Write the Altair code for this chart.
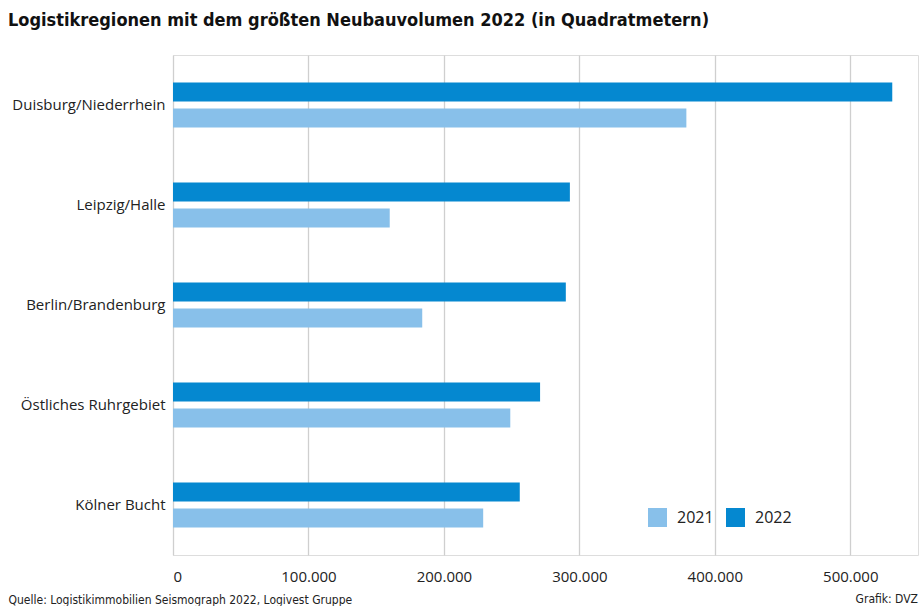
import altair as alt
import pandas as pd

regions = ["Duisburg/Niederrhein", "Leipzig/Halle", "Berlin/Brandenburg",
           "Östliches Ruhrgebiet", "Kölner Bucht"]
values_2021 = [379000, 160000, 184000, 249000, 229000]
values_2022 = [531000, 293000, 290000, 271000, 256000]
years = ["2021", "2022"]
x_ticks = [0, 100000, 200000, 300000, 400000, 500000]

rows = []
for r, a, b in zip(regions, values_2021, values_2022):
    rows.append({"region": r, "year": "2021", "value": a})
    rows.append({"region": r, "year": "2022", "value": b})
df = pd.DataFrame(rows)

LIGHT = "#88c0ea"
DARK = "#0588d0"
FONT = "Open Sans"
TFONT = "DejaVu Sans Condensed, Roboto, sans-serif"

bars = alt.Chart(df).mark_bar().encode(
    x=alt.X("value:Q",
            scale=alt.Scale(domain=[0, 550000], nice=False),
            axis=alt.Axis(values=x_ticks, labelExpr="replace(format(datum.value, ',d'), /,/g, '.')",
                          grid=True, gridColor="#cfcfcf", gridWidth=1.3, domain=False, ticks=False,
                          labelFont=FONT, labelFontSize=15, labelColor="#222", labelPadding=14,
                          title="Quelle: Logistikimmobilien Seismograph 2022, Logivest Gruppe",
                          titleFont=TFONT, titleFontSize=12, titleFontWeight="normal", titleColor="#222",
                          titleAnchor="start", titleAlign="left", titleX=-165, titleY=48,
                          titleBaseline="alphabetic")),
    y=alt.Y("region:N", sort=regions,
            scale=alt.Scale(paddingInner=0.55, paddingOuter=0.275),
            axis=alt.Axis(title=None, domain=False, ticks=False, grid=False, labelFont=FONT,
                          labelFontSize=15, labelColor="#222", labelPadding=8)),
    yOffset=alt.YOffset("year:N", sort=["2022", "2021"],
                        scale=alt.Scale(paddingInner=0.27, paddingOuter=0)),
    color=alt.Color("year:N", scale=alt.Scale(domain=years, range=[LIGHT, DARK]),
                    legend=alt.Legend(orient="none", legendX=475, legendY=453, direction="horizontal",
                                      title=None, symbolType="square", symbolSize=361,
                                      symbolStrokeWidth=0, symbolOpacity=1,
                                      labelFont=FONT, labelFontSize=16, labelColor="#222",
                                      labelOffset=10, columnPadding=12)),
)

credit = alt.Chart(pd.DataFrame({"t": ["Grafik: DVZ"]})).mark_text(
    align="right", baseline="alphabetic", font=TFONT, fontSize=12, color="#222"
).encode(text="t:N", x=alt.value(745), y=alt.value(548))

chart = alt.layer(bars, credit).properties(
    width=745, height=500,
    autosize=alt.AutoSizeParams(type="none"),
    padding={"left": 173, "top": 55, "right": 2, "bottom": 51},
    title=alt.TitleParams("Logistikregionen mit dem größten Neubauvolumen 2022 (in Quadratmetern)",
                          anchor="start", frame="group", dx=-165, offset=25, font=TFONT, fontSize=18,
                          fontWeight="bold", color="#111"),
).configure_view(stroke="transparent", strokeWidth=0, strokeOpacity=0).configure(background="white")

chart.save("out.html", embed_options={"renderer": "svg", "actions": False})
